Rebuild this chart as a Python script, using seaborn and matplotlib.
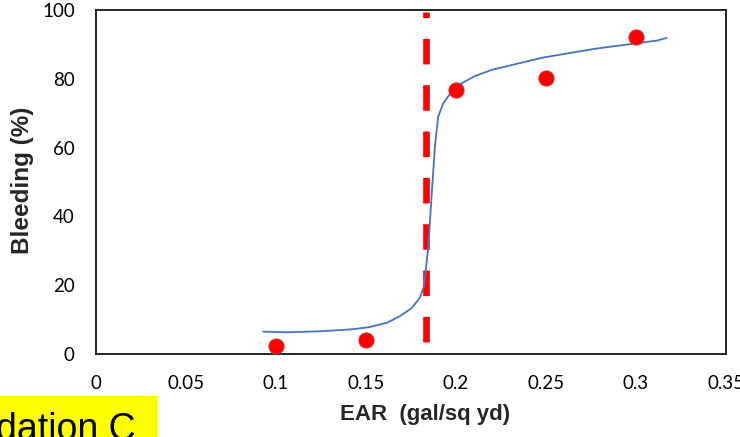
import numpy as np
import seaborn as sns
import matplotlib.pyplot as plt
from matplotlib.patches import Rectangle
from matplotlib.ticker import FuncFormatter

# measured points
ear_pts = [0.10, 0.15, 0.20, 0.25, 0.30]
bleed_pts = [2.4, 4.2, 76.8, 80.1, 92.2]

# fitted curve
ear_fit = [0.093, 0.106, 0.125, 0.143, 0.152, 0.162, 0.169, 0.1755, 0.180,
           0.1824, 0.1848, 0.1867, 0.1885, 0.1891, 0.1903, 0.1931, 0.1978,
           0.2033, 0.2107, 0.2200, 0.2311, 0.2487, 0.2783, 0.3117, 0.3172]
bleed_fit = [6.5, 6.3, 6.6, 7.2, 7.8, 9.1, 11.0, 13.3, 16.3,
             19.6, 31.2, 46.7, 60.5, 63.5, 69.0, 72.9, 76.3,
             78.7, 80.8, 82.6, 84.0, 86.2, 88.8, 91.1, 91.9]

# threshold line
ear_cut = 0.1833
cut_y = [0, 99.4]

sns.set_style("white")
plt.rcParams['font.family'] = ['Lato', 'DejaVu Sans']

fig = plt.figure(figsize=(7.4, 4.37), dpi=100)
ax = fig.add_axes([0.1293, 0.19, 0.8514, 0.7871])

ax.plot([ear_cut, ear_cut], cut_y, color='#ff0000', lw=4.8,
        linestyle=(5.14, (3.83, 3.12)), solid_capstyle='butt', zorder=2)
sns.lineplot(x=ear_fit, y=bleed_fit, ax=ax, sort=False, estimator=None,
             color='#4472c4', lw=1.3, zorder=3)
sns.scatterplot(x=ear_pts, y=bleed_pts, ax=ax, s=118, color='#ff0000',
                edgecolor='#d03030', linewidth=0.8, zorder=4)

ax.set_xlim(0, 0.35)
ax.set_ylim(0, 100)
ax.set_xticks(np.arange(0, 0.351, 0.05))
ax.set_yticks(np.arange(0, 101, 20))
ax.xaxis.set_major_formatter(FuncFormatter(lambda v, p: f'{v:g}' if abs(v) > 1e-9 else '0'))
ax.tick_params(direction='in', length=4.3, width=1, color='black',
               labelsize=13.5, labelcolor='black')
ax.tick_params(axis='x', pad=15)
ax.tick_params(axis='y', pad=15)

for s in ax.spines.values():
    s.set_visible(True)
    s.set_color('black')
    s.set_linewidth(1.2)

ax.set_xlabel('EAR  (gal/sq yd)', fontsize=16, fontweight='bold',
              family='Liberation Sans')
ax.set_ylabel('Bleeding (%)', fontsize=17.5, fontweight='bold',
              family='Liberation Sans')
ax.xaxis.set_label_coords(0.5227, -0.146)
ax.yaxis.set_label_coords(-0.0985, 0.505)

# clipped yellow note at bottom-left
fig.add_artist(Rectangle((0, 0), 158 / 740, 41 / 437, transform=fig.transFigure,
                         facecolor='#ffff00', edgecolor='none'))
fig.text(-0.006, -0.006, 'dation C', fontsize=27, family='Liberation Sans',
         color='black', ha='left', va='baseline')

fig.savefig('out.png', dpi=100)
